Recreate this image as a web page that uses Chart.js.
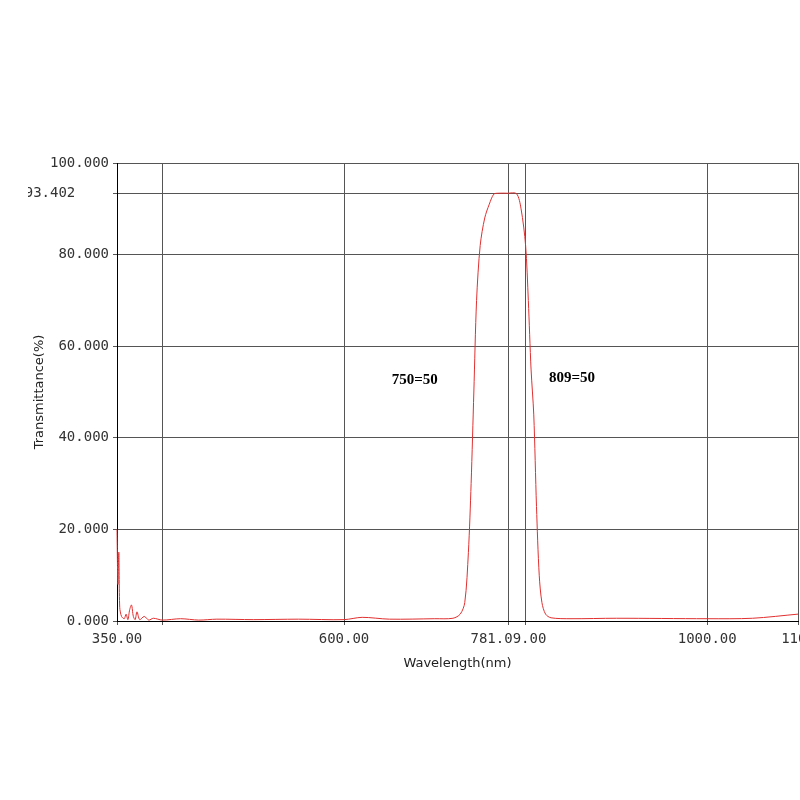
<!DOCTYPE html>
<html><head><meta charset="utf-8">
<script src="https://cdn.jsdelivr.net/npm/chart.js@4/dist/chart.umd.min.js"></script>
<style>html,body{margin:0;padding:0;background:#fff}#w{width:800px;height:800px}</style>
</head><body><div id="w"><canvas id="c"></canvas></div>
<script>
const wavelengths = [350,351,352,353,355,358,360,362,364,366,368,370,372,375,380,385,390,400,420,440,460,500,550,600,620,650,700,720,728,733,737,740,743,746,750,755,760,765,770,780,790,795,800,803,806,809,812,815,818,822,828,850,900,1000,1050,1100];
const transmittance = [20,8,15,3,1,0.5,1.5,0.3,2.5,3.5,1,0.3,2,0.3,1,0.2,0.6,0.2,0.5,0.2,0.4,0.3,0.4,0.3,0.8,0.4,0.5,0.6,1.5,4,15,30,50,70,82,88,91,93.2,93.4,93.4,93.3,90,82,70,55,45,25,10,4,1.5,0.7,0.5,0.6,0.5,0.6,1.5];
const xTicks = [350,400,600,781.09,800,1000,1100];
const xTickLabels = {350:'350.00',400:'',600:'600.00',781.09:'781.09.00',800:'',1000:'1000.00',1100:'1100'};
const yTicks = [0,20,40,60,80,93.402,100];
const notes = [{x:678,y:52.6,t:'750=50'},{x:851,y:53,t:'809=50'}];

const notePlugin = {id:'notes',afterDatasetsDraw(ch){
  const c=ch.ctx, xs=ch.scales.x, ys=ch.scales.y;
  c.save(); c.font='bold 15px "Liberation Serif"'; c.fillStyle='#000'; c.textAlign='center'; c.textBaseline='middle';
  notes.forEach(n=>c.fillText(n.t, xs.getPixelForValue(n.x), ys.getPixelForValue(n.y)));
  c.restore();
}};
new Chart(document.getElementById('c'),{
  type:'line',
  data:{datasets:[{data:wavelengths.map((w,i)=>({x:w,y:transmittance[i]})),borderColor:'#e03030',borderWidth:1,pointRadius:0,tension:0.3,clip:false}]},
  options:{responsive:true,maintainAspectRatio:false,animation:false,
    layout:{padding:{left:28,right:2,top:163,bottom:125}},
    plugins:{legend:{display:false},tooltip:{enabled:false}},
    scales:{
      x:{type:'linear',min:350,max:1100,
        afterBuildTicks(s){s.ticks=xTicks.map(v=>({value:v}));},
        afterFit(s){s.height=54;s.paddingRight=0;s.paddingLeft=0;},
        ticks:{autoSkip:false,maxRotation:0,color:'#333',font:{family:'DejaVu Sans Mono',size:14},padding:6,callback:v=>xTickLabels[v]},
        grid:{color:'#555',lineWidth:1,tickLength:4},
        border:{color:'#000'},
        title:{display:true,text:'Wavelength(nm)',color:'#222',font:{family:'DejaVu Sans',size:13},padding:{top:4}}},
      y:{min:0,max:100,
        afterBuildTicks(s){s.ticks=yTicks.map(v=>({value:v}));},
        afterFit(s){s.width=89;s.paddingTop=0;s.paddingBottom=0;},
        ticks:{autoSkip:false,color:'#333',font:{family:'DejaVu Sans Mono',size:14},padding:4,callback:v=>v===93.402?'93.402    ':v.toFixed(3)},
        grid:{color:'#555',lineWidth:1,tickLength:4},
        border:{color:'#000'},
        title:{display:true,text:'Transmittance(%)',color:'#222',font:{family:'DejaVu Sans',size:13},padding:{bottom:2}}}
    }},
  plugins:[notePlugin]
});
</script></body></html>
